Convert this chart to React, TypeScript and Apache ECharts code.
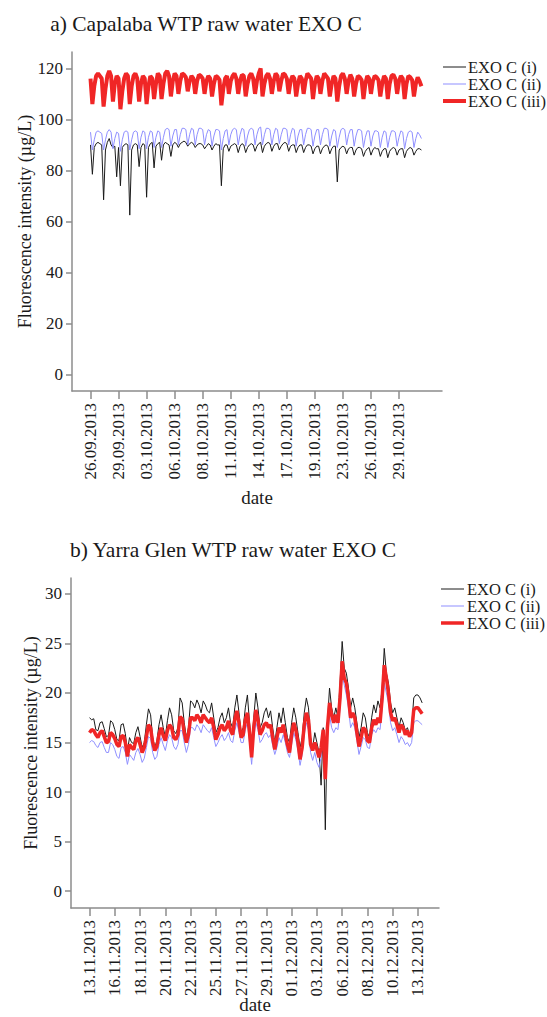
import React, { useEffect, useRef } from "react";
import * as echarts from "echarts";

// ---------- data ----------
const seriesNames = ["EXO C (i)", "EXO C (ii)", "EXO C (iii)"];

const titleA = "a) Capalaba WTP raw water EXO C";
const titleB = "b) Yarra Glen WTP raw water EXO C";
const yAxisTitle = "Fluorescence intensity (µg/L)";
const xAxisTitle = "date";

const dateLabelsA = ["26.09.2013", "29.09.2013", "03.10.2013", "06.10.2013", "08.10.2013", "11.10.2013",
  "14.10.2013", "17.10.2013", "19.10.2013", "23.10.2013", "26.10.2013", "29.10.2013"];
const dateLabelsB = ["13.11.2013", "16.11.2013", "18.11.2013", "20.11.2013", "22.11.2013", "25.11.2013",
  "27.11.2013", "29.11.2013", "01.12.2013", "03.12.2013", "06.12.2013", "08.12.2013", "10.12.2013", "13.12.2013"];

const yTicksA = [0, 20, 40, 60, 80, 100, 120];
const yTicksB = [0, 5, 10, 15, 20, 25, 30];

// samples between two labelled dates
const samplesPerLabelA = 15;
const samplesPerLabelB = 12;

// a) Capalaba
const capalabaI = [
  90, 78.5, 89, 90.5, 91, 90.5, 90, 68.5, 88, 91,
  92.5, 90, 89, 89.5, 77.5, 89, 74, 89, 90, 90.5,
  90, 62.5, 88, 90, 90.5, 90, 81.5, 89, 90.5, 90,
  69.5, 89, 90.5, 91, 81, 89.5, 90.5, 91, 84, 90,
  91, 90.5, 90, 85.5, 90, 91, 90.5, 89, 90.5, 91,
  91.5, 91, 89.5, 90.5, 91, 90.5, 89, 90, 90.5, 90.5,
  90, 88.5, 89.5, 90.5, 90, 88, 89.5, 90.5, 90, 90,
  74, 88.5, 90, 90, 87.5, 89.5, 90, 90.5, 90, 87,
  89.5, 90.5, 90, 87, 89, 90, 90.5, 90, 87.5, 89.5,
  90.5, 91, 87, 89.5, 90.5, 91, 90.5, 87.5, 89.5, 90.5,
  90.5, 88, 89.5, 90.5, 91, 90.5, 87.5, 89.5, 90, 90,
  87, 89, 90, 90, 87, 89, 90, 90, 89.5, 86.5,
  88.5, 89.5, 89.5, 86.5, 88.5, 89.5, 90, 89.5, 86.5, 88.5,
  89.5, 89.5, 75.5, 88, 89, 89.5, 89, 86.5, 88.5, 89,
  89, 86, 88, 89, 89, 88.5, 85.5, 87.5, 88.5, 89,
  86, 88, 89, 88.5, 88.5, 85.5, 87.5, 88.5, 88.5, 85,
  87.5, 88.5, 89, 88.5, 86, 88, 88.5, 88.5, 85, 87.5,
  88.5, 89, 88.5, 86, 87.5, 88.5, 88.5, 88,
];
const capalabaII = [
  95, 88, 92, 95, 95.5, 95, 94.5, 88, 92, 95,
  96, 95, 88.5, 92.5, 95, 94.5, 87.5, 92, 95, 95.5,
  95, 88, 92, 95, 95.5, 95, 88.5, 93, 95.5, 95,
  88.5, 93, 95.5, 95, 89, 93, 95.5, 95, 89, 93,
  96, 96.5, 96, 89.5, 93.5, 96, 96, 90, 94, 96.5,
  96.5, 96, 90, 94, 96.5, 96, 90, 94, 96.5, 96.5,
  96, 90, 94, 96, 95.5, 89.5, 93.5, 96, 96, 95.5,
  88, 92.5, 95.5, 96, 90, 94, 96, 96.5, 96, 90,
  94, 96.5, 96, 89.5, 93.5, 96, 96.5, 96, 90, 94,
  96.5, 97, 90, 94, 96.5, 96.5, 96, 90, 94, 96.5,
  96, 90.5, 94, 96.5, 96.5, 96, 90, 94, 96.5, 96,
  89.5, 93.5, 96, 96, 90, 94, 96.5, 96.5, 96, 89.5,
  93.5, 96, 96, 90, 94, 96.5, 96.5, 96, 89.5, 93.5,
  96, 95.5, 89, 93, 96, 96.5, 96, 90, 94, 96,
  96, 89.5, 93.5, 96, 96, 95.5, 89, 93, 95.5, 95.5,
  89.5, 93.5, 95.5, 95.5, 95, 89, 93, 95.5, 95, 89,
  93, 95.5, 95.5, 95, 89.5, 93, 95.5, 95, 88.5, 92.5,
  95, 95.5, 95, 89, 92.5, 95, 94, 92.5,
];
const capalabaIII = [
  116, 106, 113, 117, 118, 117, 116, 105, 112, 117,
  119, 117, 107, 114, 117, 116, 104, 111, 116, 118,
  117, 106, 113, 117, 118, 116, 107, 114, 117, 116,
  106, 113, 117, 116, 108, 114, 118, 117, 108, 114,
  118, 119, 117, 109, 115, 118, 117, 110, 115, 118,
  117.5, 116.5, 111, 115, 117, 116, 110, 115, 117.5, 117,
  116, 110, 115, 117, 116, 109, 114, 117, 116.5, 115.5,
  105.5, 112, 116, 117, 110, 115, 117, 118, 116, 110,
  115, 117.5, 117, 109, 114, 117, 118, 116, 110, 115,
  118, 120, 109, 114, 117, 118, 116, 110, 115, 118,
  117, 111, 115, 118, 117.5, 116, 110, 115, 117, 116,
  109, 114, 117, 116, 110, 115, 118, 117, 116, 108,
  114, 117, 116, 110, 115, 118, 117, 116, 109, 114,
  117, 116, 107, 113, 117, 118, 116, 110, 115, 117.5,
  116, 109, 114, 117, 116.5, 115.5, 108, 114, 117, 116,
  110, 115, 117, 116.5, 115.5, 109, 114, 117, 116, 108,
  114, 117, 117.5, 116, 110, 115, 117, 116, 108, 114,
  117, 116.5, 115.5, 109, 114, 116.5, 115, 113,
];

// b) Yarra Glen
const yarraI = [
  17.5, 17.3, 17.4, 16.3, 16.2, 17.0, 17.1, 16.4, 15.6, 15.7,
  17.2, 17.0, 16.3, 15.3, 15.2, 16.8, 16.9, 15.9, 14.2, 15.5,
  15.0, 14.9, 16.0, 16.6, 15.6, 14.5, 15.0, 16.8, 18.4, 17.8,
  15.5, 14.5, 15.2, 16.8, 17.8, 16.5, 15.6, 17.2, 18.5, 17.8,
  16.2, 15.9, 16.5, 19.5, 19.0, 17.0, 15.5, 16.5, 19.2, 19.0,
  18.5, 19.3, 18.8, 18.0, 19.2, 18.8, 18.2, 18.0, 19.0, 17.5,
  16.0, 16.5, 17.5, 18.0, 17.0, 17.5, 18.5, 17.0, 16.5, 18.5,
  19.8, 18.0, 16.0, 16.5, 18.5, 19.8, 17.0, 14.5, 17.5, 20.0,
  18.5, 16.5, 17.0, 18.0, 18.5, 17.5, 18.2, 16.5, 15.0, 16.5,
  18.0, 17.0, 18.5, 17.0, 15.5, 15.0, 17.0, 18.5, 17.5, 16.0,
  14.5, 15.5, 18.0, 19.5, 18.5, 15.5, 14.5, 16.0, 15.0, 14.0,
  10.7, 16.5, 6.2, 17.0, 20.5, 18.5, 17.5, 18.5, 17.5, 21.0,
  25.2, 22.5, 22.0, 20.5, 18.5, 19.5, 18.5, 17.0, 15.5, 16.5,
  18.0, 17.5, 16.0, 15.5, 17.5, 18.8, 18.0, 19.2, 18.5, 20.5,
  24.5, 22.0, 21.0, 19.0, 18.0, 18.5, 17.5, 16.5, 17.5, 17.0,
  16.2, 16.5, 15.8, 16.5, 19.5, 19.8, 19.8, 19.5, 19.0,
];
const yarraII = [
  15.0, 15.2, 15.1, 14.7, 14.5, 15.0, 15.1, 14.5, 14.0, 14.0,
  15.0, 14.8, 14.3, 13.6, 13.4, 14.5, 14.6, 14.0, 12.8, 13.8,
  13.5, 13.2, 14.0, 14.4, 13.8, 13.0, 13.4, 14.5, 15.6, 15.4,
  14.0, 13.3, 13.6, 14.8, 15.5, 14.8, 14.2, 15.2, 15.8, 15.5,
  14.6, 14.3, 14.8, 16.2, 16.2, 15.0, 14.0, 14.8, 16.5, 16.5,
  16.2, 16.8, 16.5, 16.0, 16.8, 16.5, 16.2, 16.0, 16.5, 15.5,
  14.6, 15.0, 15.5, 15.8, 15.2, 15.5, 16.0, 15.2, 15.0, 16.2,
  17.0, 16.0, 15.0, 15.0, 16.3, 17.0, 15.0, 12.8, 15.5, 17.0,
  16.3, 15.0, 15.3, 15.8, 16.0, 15.5, 15.8, 14.7, 13.8, 14.5,
  15.5, 15.0, 15.8, 15.0, 14.0, 13.5, 14.8, 16.0, 15.3, 14.2,
  12.7, 13.8, 15.8, 17.0, 16.3, 14.0, 13.2, 14.0, 13.0, 12.5,
  13.5, 15.8, 12.0, 15.5, 17.8, 16.5, 16.0, 16.5, 16.3, 18.5,
  21.8, 20.8, 19.8, 18.5, 16.5, 17.0, 16.5, 15.2, 13.8, 14.6,
  15.5, 15.3, 14.5, 14.4, 15.8, 16.3, 16.0, 16.5, 16.3, 18.5,
  21.0, 20.0, 19.0, 17.0, 16.2, 16.5, 15.8, 15.0, 15.6, 15.3,
  14.8, 15.0, 14.6, 15.0, 17.0, 17.2, 17.2, 17.0, 16.8,
];
const yarraIII = [
  16.0, 16.3, 16.2, 15.8, 15.5, 16.0, 16.2, 15.6, 15.0, 15.1,
  16.0, 15.8, 15.4, 14.8, 14.6, 15.6, 15.7, 15.0, 13.6, 14.8,
  14.5, 14.3, 15.2, 15.5, 14.8, 14.0, 14.5, 15.6, 16.8, 16.5,
  15.0, 14.2, 14.6, 15.8, 16.5, 15.7, 15.2, 16.2, 16.8, 16.5,
  15.5, 15.3, 15.8, 17.6, 17.4, 16.0, 15.0, 15.8, 17.5, 17.5,
  17.2, 17.8, 17.5, 17.0, 17.8, 17.5, 17.2, 17.0, 17.5, 16.5,
  15.3, 15.8, 16.5, 16.8, 16.2, 16.5, 17.2, 16.2, 15.8, 17.3,
  18.2, 17.0, 15.5, 15.8, 17.3, 18.0, 16.0, 13.5, 16.5, 18.3,
  17.3, 15.8, 16.2, 16.8, 17.0, 16.5, 16.8, 15.5, 14.3, 15.5,
  16.5, 16.0, 16.8, 15.8, 14.8, 14.0, 15.8, 17.0, 16.3, 15.0,
  13.3, 14.5, 16.8, 18.0, 17.3, 14.8, 14.2, 15.0, 14.3, 13.5,
  14.5, 16.3, 11.3, 16.5, 19.0, 17.8, 17.0, 17.8, 17.0, 19.5,
  23.2, 21.5, 21.0, 19.5, 17.5, 18.0, 17.5, 16.0, 14.6, 15.5,
  16.5, 16.3, 15.2, 15.0, 16.5, 17.3, 16.8, 17.5, 17.0, 19.5,
  22.8, 21.5, 20.0, 18.0, 17.2, 17.5, 16.8, 16.0, 16.8, 16.5,
  15.8, 16.2, 15.6, 16.0, 18.3, 18.5, 18.5, 18.2, 17.9,
];

// ---------- styling ----------
const FONT = "'Liberation Serif', 'Times New Roman', Times, serif";
const AXIS_COLOR = "#8c8c8c";
const TEXT_COLOR = "#1a1a1a";
const COLORS = ["#1a1a1a", "#8f8fff", "#f02626"];
const WIDTHS_A = [1, 1, 4];
const WIDTHS_B = [1, 1, 3.5];
const TICK_FONT = 17;

function xAxisCfg(gridIndex: number, labels: string[], step: number, min: number, max: number, nameGap: number) {
  const vals = labels.map((_, k) => k * step);
  return {
    type: "value",
    gridIndex,
    min,
    max,
    axisLine: { show: true, onZero: false, lineStyle: { color: AXIS_COLOR, width: 1.5 } },
    axisTick: { show: true, length: 8, customValues: vals, lineStyle: { color: AXIS_COLOR, width: 1.5 } },
    axisLabel: {
      customValues: vals,
      formatter: (v: number) => labels[Math.round(v / step)] ?? "",
      rotate: 90,
      margin: 12,
      fontSize: TICK_FONT,
      fontFamily: FONT,
      color: TEXT_COLOR,
    },
    splitLine: { show: false },
    name: xAxisTitle,
    nameLocation: "middle",
    nameGap,
    nameMoveOverlap: false,
    nameTextStyle: { fontSize: 19, fontFamily: FONT, color: TEXT_COLOR },
  };
}

function yAxisCfg(gridIndex: number, ticks: number[], min: number, max: number, nameGap: number) {
  return {
    type: "value",
    gridIndex,
    min,
    max,
    axisLine: { show: true, onZero: false, lineStyle: { color: AXIS_COLOR, width: 1.5 } },
    axisTick: { show: true, length: 6, customValues: ticks, lineStyle: { color: AXIS_COLOR, width: 1.5 } },
    axisLabel: { customValues: ticks, margin: 9, fontSize: TICK_FONT, fontFamily: FONT, color: TEXT_COLOR },
    splitLine: { show: false },
    name: yAxisTitle,
    nameLocation: "middle",
    nameGap,
    nameMoveOverlap: false,
    nameTextStyle: { fontSize: 18, fontFamily: FONT, color: TEXT_COLOR },
  };
}

function legendGraphic(x1: number, x2: number, tx: number, ys: number[], widths: number[]) {
  const els: any[] = [];
  seriesNames.forEach((n, k) => {
    els.push({
      type: "line",
      shape: { x1, y1: ys[k], x2, y2: ys[k] },
      style: { stroke: COLORS[k], lineWidth: widths[k] },
    });
    els.push({
      type: "text",
      x: tx,
      y: ys[k],
      style: { text: n, font: `16.5px ${FONT}`, fill: TEXT_COLOR, textVerticalAlign: "middle", textAlign: "left" },
    });
  });
  return els;
}

export default function App() {
  const ref = useRef<HTMLDivElement>(null);
  useEffect(() => {
    if (!ref.current) return;
    const chart = echarts.init(ref.current, null, { renderer: "svg" });
    const seriesA = [capalabaI, capalabaII, capalabaIII];
    const seriesB = [yarraI, yarraII, yarraIII];
    const option: any = {
      animation: false,
      backgroundColor: "#ffffff",
      grid: [
        { left: 72, top: 52, width: 370, height: 339, outerBoundsMode: "none", containLabel: false },
        { left: 71, top: 578, width: 368, height: 330, outerBoundsMode: "none", containLabel: false },
      ],
      xAxis: [
        xAxisCfg(0, dateLabelsA, samplesPerLabelA, -9.9, 188, 97),
        xAxisCfg(1, dateLabelsB, samplesPerLabelB, -8.8, 166, 87),
      ],
      yAxis: [
        yAxisCfg(0, yTicksA, -6.4, 126.4, 38),
        yAxisCfg(1, yTicksB, -1.69, 31.6, 31),
      ],
      series: [
        ...seriesA.map((arr, k) => ({
          name: seriesNames[k],
          type: "line",
          xAxisIndex: 0,
          yAxisIndex: 0,
          data: arr.map((v, i) => [i, v]),
          symbol: "none",
          showSymbol: false,
          silent: true,
          lineStyle: { color: COLORS[k], width: WIDTHS_A[k] },
          z: 2 + k,
        })),
        ...seriesB.map((arr, k) => ({
          name: seriesNames[k] + " ",
          type: "line",
          xAxisIndex: 1,
          yAxisIndex: 1,
          data: arr.map((v, i) => [i, v]),
          symbol: "none",
          showSymbol: false,
          silent: true,
          lineStyle: { color: COLORS[k], width: WIDTHS_B[k] },
          z: 2 + k,
        })),
      ],
      graphic: [
        {
          type: "text",
          x: 206,
          y: 24,
          style: { text: titleA, font: `21.5px ${FONT}`, fill: TEXT_COLOR, textAlign: "center", textVerticalAlign: "middle" },
        },
        {
          type: "text",
          x: 233,
          y: 550,
          style: { text: titleB, font: `21.5px ${FONT}`, fill: TEXT_COLOR, textAlign: "center", textVerticalAlign: "middle" },
        },
        ...legendGraphic(443, 466, 468, [67, 84, 101], WIDTHS_A),
        ...legendGraphic(441, 464, 467, [589, 606, 623], WIDTHS_B),
      ],
    };
    chart.setOption(option);
    return () => chart.dispose();
  }, []);
  return (
    <div
      ref={ref}
      style={{ position: "absolute", left: 0, top: 0, width: 547, height: 1017, background: "#fff" }}
    />
  );
}
